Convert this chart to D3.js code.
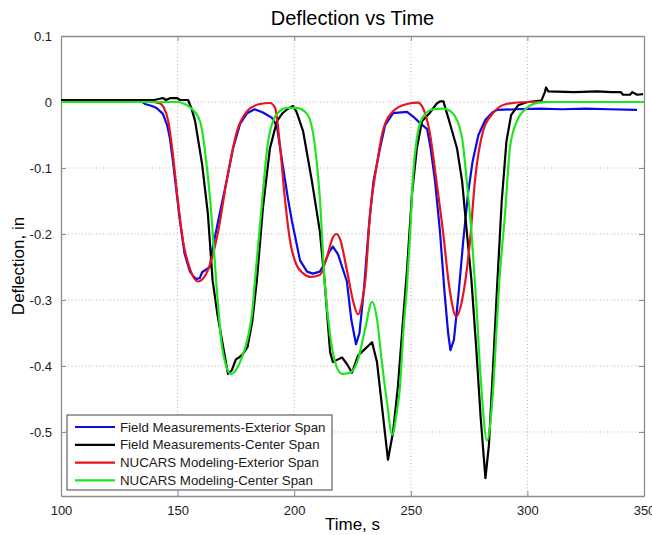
<!DOCTYPE html>
<html>
    <head>
        <title>Deflection vs Time</title>
        <script src="https://d3js.org/d3.v7.min.js"></script>
        <style>
            body { margin: 0; background: #fff; }
            svg { display: block; font-family: "Liberation Sans", Arial, sans-serif; }
        </style>
    </head>
    <body>
        <script>
            // [time s, deflection in]
            const fieldExterior = [
                [100, 0.002], [120, 0.002], [134, 0.002], [136, -0.003], [139, -0.006], [141, -0.009],
                [143.7, -0.018], [145.5, -0.035], [146.7, -0.055], [148, -0.09], [149, -0.12], [151, -0.18],
                [153, -0.23], [155.3, -0.257], [157, -0.265], [158, -0.268], [159.5, -0.267], [160.5, -0.258],
                [162.6, -0.253], [163.8, -0.25], [165, -0.222], [168, -0.17], [171, -0.12], [173.8, -0.07],
                [176.8, -0.033], [179.8, -0.017], [183, -0.011], [186.6, -0.016], [190.5, -0.024], [192.6, -0.037],
                [195, -0.094], [197.3, -0.146], [199, -0.18], [202.5, -0.24], [205.5, -0.257], [208, -0.26],
                [211, -0.257], [213, -0.245], [215, -0.227], [216.6, -0.219], [218.8, -0.231], [222.6, -0.272],
                [224.5, -0.33], [226.5, -0.367], [228, -0.35], [230, -0.28], [232, -0.19], [234, -0.12],
                [236.8, -0.07], [239, -0.035], [242.4, -0.017], [248.4, -0.015], [251, -0.022], [254, -0.032],
                [257, -0.041], [258.5, -0.07], [260.4, -0.12], [262.5, -0.196], [264.5, -0.29], [266, -0.35],
                [267, -0.376], [268.5, -0.36], [270.5, -0.29], [272.5, -0.21], [274.5, -0.14], [276.5, -0.09],
                [279, -0.05], [282, -0.027], [285, -0.016], [287, -0.012], [295, -0.011], [305, -0.01],
                [315, -0.011], [325, -0.01], [335, -0.011], [347, -0.012]
            ]
            const fieldCenter = [
                [100, 0.003], [120, 0.003], [140, 0.003], [143.7, 0.006], [145, 0.003], [147, 0.006],
                [149.7, 0.006], [151, 0.003], [154.5, 0.003], [156, -0.01], [157.5, -0.029], [160.5, -0.094],
                [163, -0.17], [165, -0.27], [167, -0.32], [169, -0.36], [171.6, -0.412], [173.3, -0.406],
                [175, -0.39], [176, -0.388], [178, -0.382], [180, -0.371], [182, -0.333], [184, -0.27],
                [186.6, -0.16], [189.6, -0.07], [192.6, -0.029], [195, -0.017], [197, -0.011], [199.5, -0.006],
                [201, -0.015], [203.8, -0.044], [207.6, -0.12], [211, -0.196], [213, -0.27], [215.4, -0.379],
                [216.6, -0.394], [218.8, -0.39], [220.5, -0.387], [222.6, -0.397], [224.8, -0.41], [227.4, -0.384],
                [230.4, -0.374], [233.4, -0.364], [235.5, -0.394], [237.6, -0.46], [240.2, -0.542], [242.4, -0.5],
                [244.5, -0.43], [246.7, -0.329], [248.4, -0.253], [250.5, -0.14], [252.6, -0.07], [254.8, -0.029],
                [258, -0.017], [261, -0.003], [262.5, 0.001], [264, 0.001], [266.8, -0.033], [269.8, -0.07],
                [272, -0.12], [274, -0.196], [276, -0.27], [278, -0.37], [280, -0.48], [282, -0.57],
                [283.5, -0.52], [285, -0.42], [287, -0.28], [289, -0.15], [291, -0.06], [293, -0.02],
                [296, -0.005], [300, 0], [306, 0.002], [307.5, 0.015], [308, 0.022], [309, 0.016],
                [320, 0.015], [330, 0.016], [336, 0.015], [340, 0.015], [341, 0.011], [344, 0.011],
                [345, 0.015], [347, 0.011], [349.6, 0.012]
            ]
            const nucarsExterior = [
                [100, 0], [138, 0], [142.5, -0.002], [144, -0.008], [146, -0.029], [148, -0.08],
                [150, -0.146], [152.3, -0.21], [155.3, -0.253], [158.7, -0.272], [161.5, -0.265], [164, -0.245],
                [167.4, -0.196], [171, -0.12], [175.5, -0.044], [179.8, -0.014], [185.3, -0.003], [189.6, -0.0015],
                [191.8, -0.009], [194, -0.07], [196, -0.146], [198.2, -0.21], [201, -0.247], [204, -0.26],
                [206.8, -0.265], [211, -0.262], [214, -0.235], [216.5, -0.206], [218, -0.2], [219.6, -0.207],
                [222.6, -0.255], [225.5, -0.305], [227.4, -0.322], [229, -0.305], [230.5, -0.27], [232.5, -0.17],
                [235.5, -0.094], [238, -0.044], [242.4, -0.014], [248.4, -0.003], [253, -0.001], [255.2, -0.009],
                [258, -0.044], [261, -0.12], [263.8, -0.196], [266.5, -0.28], [269.5, -0.325], [272, -0.3],
                [275.4, -0.21], [277.5, -0.12], [281, -0.044], [285, -0.018], [291, -0.003], [300, 0], [350, 0]
            ]
            const nucarsCenter = [
                [100, 0], [150, 0], [153, -0.003], [156, -0.01], [159.6, -0.029], [162.6, -0.1],
                [164.7, -0.18], [166.5, -0.27], [169, -0.37], [170.8, -0.4], [172.9, -0.412], [175, -0.406],
                [177.6, -0.387], [180.2, -0.356], [182, -0.318], [183.2, -0.27], [186, -0.16], [188.8, -0.06],
                [192.6, -0.018], [197, -0.009], [201, -0.009], [205.5, -0.018], [209, -0.07], [211, -0.146],
                [213, -0.27], [215.4, -0.353], [217.5, -0.394], [220.5, -0.412], [224, -0.41], [227.4, -0.39],
                [230.4, -0.344], [233.4, -0.303], [235.5, -0.329], [237.6, -0.394], [239.8, -0.455], [242, -0.504],
                [244, -0.47], [245.4, -0.43], [246.7, -0.353], [248.4, -0.277], [249.7, -0.2], [251, -0.11],
                [252.6, -0.055], [255, -0.024], [259.5, -0.011], [263.8, -0.01], [268, -0.017], [272, -0.055],
                [274, -0.12], [276, -0.196], [278, -0.3], [280, -0.42], [282.7, -0.513], [285, -0.45],
                [287, -0.33], [288, -0.27], [290.4, -0.17], [292.5, -0.07], [295.5, -0.029], [299.8, -0.009],
                [305, -0.001], [310, 0], [350, 0]
            ]

            const seriesNames = [
                'Field Measurements-Exterior Span',
                'Field Measurements-Center Span',
                'NUCARS Modeling-Exterior Span',
                'NUCARS Modeling-Center Span'
            ]
            const seriesColors = ['#0a0ae6', '#000000', '#e6141e', '#1ee61e']
            const xTicks = [100, 150, 200, 250, 300, 350]
            const yTicks = [0.1, 0, -0.1, -0.2, -0.3, -0.4, -0.5]

            const series = [
                { name: seriesNames[0], color: seriesColors[0], values: fieldExterior, smooth: false },
                { name: seriesNames[1], color: seriesColors[1], values: fieldCenter, smooth: false },
                { name: seriesNames[2], color: seriesColors[2], values: nucarsExterior, smooth: true },
                { name: seriesNames[3], color: seriesColors[3], values: nucarsCenter, smooth: true }
            ]

            const margin = { top: 36, right: 8, bottom: 39, left: 61 }
            const svgWidth = 652
            const svgHeight = 535
            const width = svgWidth - margin.left - margin.right
            const height = svgHeight - margin.top - margin.bottom

            const svg = d3.select('body').append('svg')
                .attr('width', svgWidth)
                .attr('height', svgHeight)

            const g = svg.append('g')
                .attr('transform', `translate(${margin.left}, ${margin.top})`)

            const xScale = d3.scaleLinear().domain([100, 350]).range([0, width])
            const yScale = d3.scaleLinear().domain([-0.597, 0.1]).range([height, 0])

            g.append('rect').attr('width', width).attr('height', height).attr('fill', '#fff')

            // dotted grid
            g.selectAll('.vgrid')
                .data(xTicks.slice(1, -1)).enter()
                .append('line')
                    .attr('class', 'vgrid')
                    .attr('x1', d => xScale(d)).attr('x2', d => xScale(d))
                    .attr('y1', 0).attr('y2', height)
            g.selectAll('.hgrid')
                .data(yTicks.slice(1)).enter()
                .append('line')
                    .attr('class', 'hgrid')
                    .attr('x1', 0).attr('x2', width)
                    .attr('y1', d => yScale(d)).attr('y2', d => yScale(d))
            g.selectAll('.vgrid, .hgrid')
                .attr('stroke', '#b4b4b4').attr('stroke-width', 1)
                .attr('stroke-dasharray', '1,2.5')

            // axes, ticks pointing inward on all four sides
            const styleAxis = sel => {
                sel.select('.domain').attr('stroke', '#8c8c8c').attr('stroke-width', 1.3)
                sel.selectAll('.tick line').attr('stroke', '#8c8c8c')
                sel.selectAll('.tick text')
                    .attr('fill', '#1a1a1a')
                    .style('font-size', '13px')
                    .style('font-family', '"Liberation Sans", Arial, sans-serif')
            }
            const yFormat = d => d === 0 ? '0' : d3.format('.1f')(d).replace('−', '-')
            g.append('g').attr('transform', `translate(0, ${height})`)
                .call(d3.axisBottom(xScale).tickValues(xTicks).tickSizeInner(-5).tickSizeOuter(0).tickPadding(10))
                .call(styleAxis)
            g.append('g')
                .call(d3.axisTop(xScale).tickValues(xTicks).tickSizeInner(-5).tickSizeOuter(0).tickFormat(''))
                .call(styleAxis)
            g.append('g')
                .call(d3.axisLeft(yScale).tickValues(yTicks).tickSizeInner(-5).tickSizeOuter(0).tickPadding(9).tickFormat(yFormat))
                .call(styleAxis)
            g.append('g').attr('transform', `translate(${width}, 0)`)
                .call(d3.axisRight(yScale).tickValues(yTicks).tickSizeInner(-5).tickSizeOuter(0).tickFormat(''))
                .call(styleAxis)

            // lines
            g.append('clipPath').attr('id', 'plotClip')
                .append('rect').attr('width', width).attr('height', height)

            const lineSharp = d3.line().x(d => xScale(d[0])).y(d => yScale(d[1]))
            const lineSmooth = d3.line().x(d => xScale(d[0])).y(d => yScale(d[1])).curve(d3.curveMonotoneX)

            g.append('g').attr('clip-path', 'url(#plotClip)')
                .selectAll('path')
                .data(series).enter()
                .append('path')
                    .attr('d', d => (d.smooth ? lineSmooth : lineSharp)(d.values))
                    .attr('fill', 'none')
                    .attr('stroke', d => d.color)
                    .attr('stroke-width', 2.2)
                    .attr('stroke-linejoin', 'round')

            // legend
            const legend = svg.append('g').attr('transform', 'translate(67, 415)')
            legend.append('rect')
                .attr('width', 265).attr('height', 75)
                .attr('fill', '#fff').attr('stroke', '#404040').attr('stroke-width', 1)
            const rows = legend.selectAll('.row')
                .data(series).enter()
                .append('g')
                    .attr('class', 'row')
                    .attr('transform', (d, i) => `translate(0, ${12 + i * 17.8})`)
            rows.append('line')
                .attr('x1', 8).attr('x2', 48)
                .attr('stroke', d => d.color).attr('stroke-width', 2.2)
            rows.append('text')
                .attr('x', 53).attr('dy', '0.35em')
                .style('font-size', '13.3px')
                .attr('fill', '#1a1a1a')
                .text(d => d.name)

            // titles
            svg.append('text')
                .attr('x', margin.left + width / 2).attr('y', 25)
                .attr('text-anchor', 'middle')
                .style('font-size', '20px')
                .text('Deflection vs Time')
            svg.append('text')
                .attr('x', margin.left + width / 2).attr('y', 530)
                .attr('text-anchor', 'middle')
                .style('font-size', '17px')
                .text('Time, s')
            svg.append('text')
                .attr('transform', `translate(24, ${margin.top + height / 2}) rotate(-90)`)
                .attr('text-anchor', 'middle')
                .style('font-size', '17px')
                .text('Deflection, in')
        </script>
    </body>
</html>
